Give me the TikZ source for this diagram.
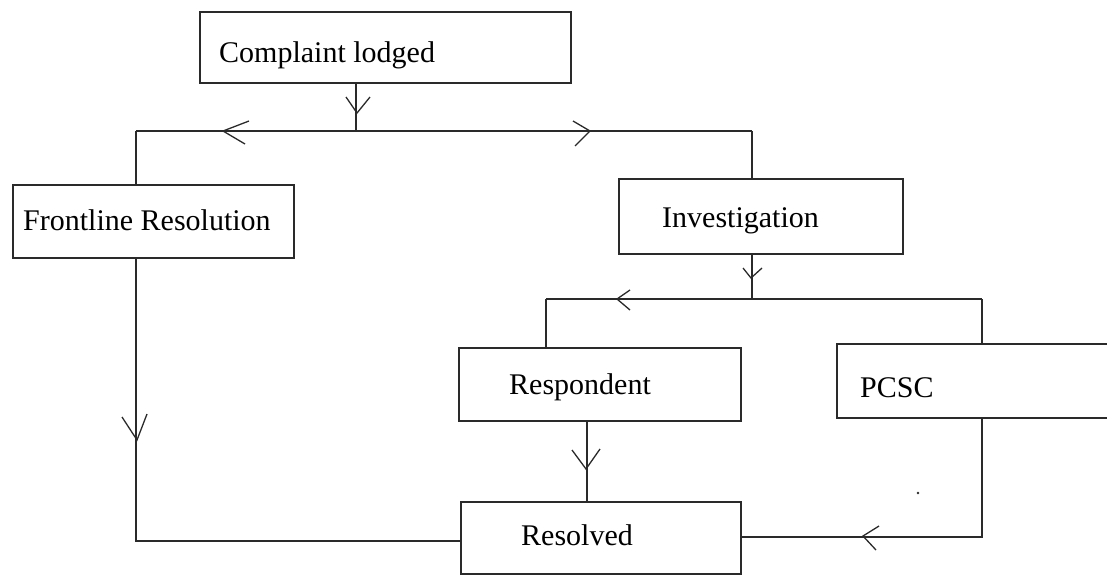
\documentclass[tikz,border=0pt]{standalone}
\usepackage{fontspec}
\setmainfont{Liberation Serif}
\definecolor{linec}{HTML}{2A2A2A}
\begin{document}
\begin{tikzpicture}[x=1pt,y=-1pt,
  box/.style={draw=linec, line width=1.6pt, inner sep=0pt, anchor=north west},
  lbl/.style={anchor=base west, inner sep=0pt, font=\fontsize{30}{36}\selectfont},
  conn/.style={draw=linec, line width=1.6pt},
  barb/.style={draw=linec, line width=1.3pt}]
\useasboundingbox (0,0) rectangle (1107,574);
\clip (0,0) rectangle (1107,574);
% boxes
\node[box, minimum width=371pt, minimum height=71pt] (comp) at (199,11) {};
\node[box, minimum width=281pt, minimum height=73pt] (front) at (12,184) {};
\node[box, minimum width=284pt, minimum height=75pt] (inv) at (618,178) {};
\node[box, minimum width=282pt, minimum height=73pt] (resp) at (458,347) {};
\node[box, minimum width=300pt, minimum height=74pt] (pcsc) at (836,343) {};
\node[box, minimum width=280pt, minimum height=72pt] (res) at (460,501) {};
% labels
\node[lbl] (tcomp) at (219,62) {Complaint lodged};
\node[lbl] (tfront) at (23,230) {Frontline Resolution};
\node[lbl] (tinv) at (662,227) {Investigation};
\node[lbl] (tresp) at (509,394) {Respondent};
\node[lbl] (tpcsc) at (860,397) {PCSC};
\node[lbl] (tres) at (521,545) {Resolved};
% junction coordinates
\coordinate (j1) at (356,131);
\coordinate (j1l) at (136,131);
\coordinate (j1r) at (752,131);
\coordinate (j2) at (752,299);
\coordinate (j2l) at (546,299);
\coordinate (j2r) at (982,299);
\coordinate (c1) at (136,541);
\coordinate (c3) at (587,0);
\coordinate (c4) at (982,537);
% connectors
\draw[conn] (j1 |- comp.south) -- (j1);
\draw[conn] (j1l) -- (j1r);
\draw[conn] (j1l) -- (j1l |- front.north);
\draw[conn] (j1r) -- (j1r |- inv.north);
\draw[conn] (j2 |- inv.south) -- (j2);
\draw[conn] (j2l) -- (j2r);
\draw[conn] (j2l) -- (j2l |- resp.north);
\draw[conn] (j2r) -- (j2r |- pcsc.north);
\draw[conn] (c1 |- front.south) -- (c1) -- (c1 -| res.west);
\draw[conn] (c3 |- resp.south) -- (c3 |- res.north);
\draw[conn] (c4 |- pcsc.south) -- (c4) -- (c4 -| res.east);
% hand-drawn open arrowheads
\draw[barb] (346,97) -- (357,113) -- (370,97);
\draw[barb] (249,121) -- (223,131) -- (245,144);
\draw[barb] (573,121) -- (590,131) -- (575,146);
\draw[barb] (743,268) -- (751,278) -- (762,268);
\draw[barb] (630,290) -- (617,299) -- (630,310);
\draw[barb] (122,417) -- (137,440) -- (147,414);
\draw[barb] (572,450) -- (586,469) -- (600,449);
\draw[barb] (879,526) -- (863,536) -- (876,550);
% stray dot
\fill[linec] (918,493) circle (1.3pt);
\end{tikzpicture}
\end{document}
